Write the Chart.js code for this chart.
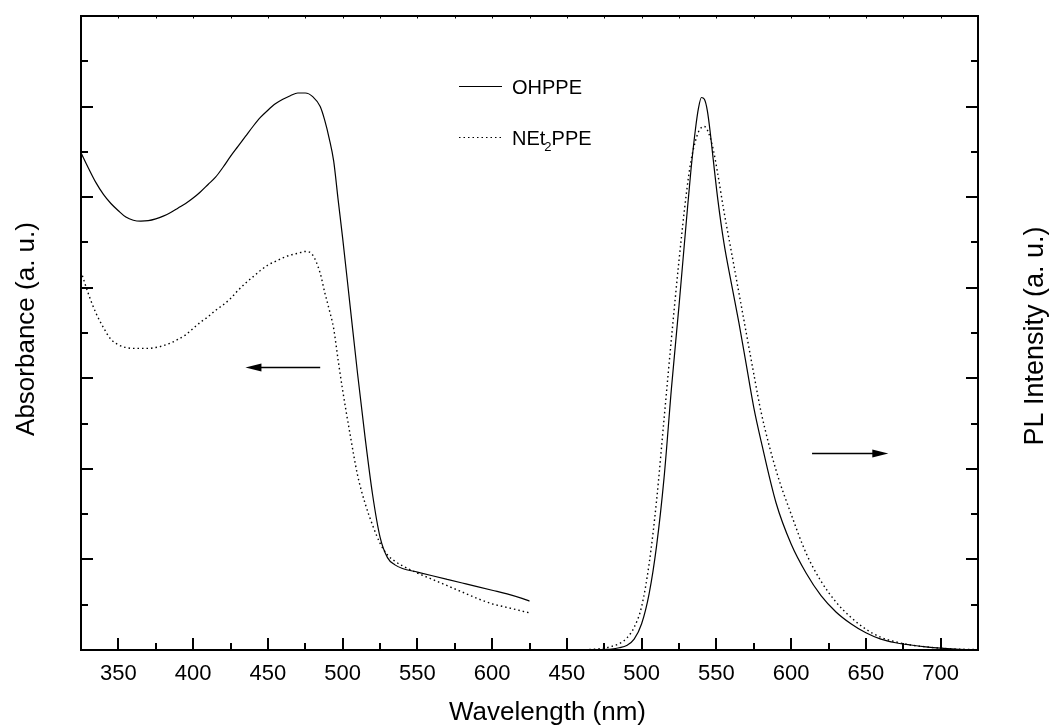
<!DOCTYPE html>
<html><head><meta charset="utf-8">
<script src="https://cdn.jsdelivr.net/npm/chart.js@4"></script>
<style>html,body{margin:0;padding:0;background:#fff}#wrap{width:1054px;height:725px;position:relative}</style>
</head><body><div id="wrap"><canvas id="c"></canvas></div>
<script>
// ---- data (arbitrary units) ----
const absWavelengths = [325,330,335,340,345,350,355,360,365,370,375,380,385,390,395,400,405,410,415,420,425,430,435,440,445,450,455,460,465,470,475,480,485,488,491,494,497,500,505,510,515,520,525,530,535,540,550,560,570,580,590,600,610,620,625];
const ohppeAbs = [5.49,5.32,5.16,5.03,4.93,4.85,4.78,4.745,4.735,4.74,4.76,4.79,4.83,4.88,4.93,4.99,5.06,5.14,5.22,5.33,5.45,5.56,5.67,5.78,5.88,5.96,6.03,6.08,6.12,6.15,6.15,6.11,6.00,5.85,5.65,5.40,4.97,4.55,3.80,3.05,2.35,1.72,1.25,1.02,0.94,0.90,0.86,0.82,0.78,0.74,0.70,0.66,0.62,0.57,0.54];
const net2ppeAbs = [4.18,3.93,3.72,3.56,3.43,3.37,3.34,3.33,3.33,3.33,3.34,3.36,3.39,3.43,3.48,3.55,3.62,3.68,3.75,3.81,3.88,3.97,4.05,4.12,4.19,4.25,4.29,4.33,4.36,4.38,4.40,4.36,4.16,3.95,3.76,3.55,3.20,2.87,2.38,1.93,1.62,1.38,1.18,1.05,0.98,0.93,0.85,0.78,0.71,0.64,0.57,0.51,0.47,0.43,0.41];

const plWavelengths = [465,470,475,480,485,490,495,500,505,510,515,520,525,530,533,536,538,540,542,544,546,548,551,555,560,565,570,575,580,590,600,610,620,630,640,650,660,670,680,690,700,710,725];
const ohppePL = [0,0,0.005,0.01,0.025,0.05,0.12,0.29,0.62,1.15,1.9,2.9,3.8,4.75,5.3,5.75,5.98,6.10,6.08,5.95,5.70,5.40,4.97,4.50,4.05,3.62,3.15,2.68,2.30,1.62,1.17,0.85,0.60,0.42,0.29,0.19,0.12,0.08,0.055,0.035,0.02,0.01,0.0];
const net2ppePL = [0.005,0.01,0.02,0.04,0.07,0.13,0.25,0.48,0.95,1.65,2.55,3.45,4.30,5.05,5.40,5.62,5.72,5.77,5.78,5.74,5.65,5.52,5.25,4.85,4.40,3.95,3.50,3.05,2.62,1.98,1.50,1.07,0.76,0.53,0.36,0.23,0.14,0.09,0.055,0.035,0.02,0.01,0.005];

const absTickLabels = [350,400,450,500,550,600];
const plTickLabels = [450,500,550,600,650,700];
const AXIS_SHIFT = 200; // PL panel drawn after the axis break: shared axis value = wavelength + 200

const FONT = '"Liberation Sans", Arial, Helvetica, sans-serif';
Chart.defaults.font.family = FONT;
Chart.defaults.color = '#000';

function tickLabel(v) {
  if (v <= 625) return absTickLabels.includes(v) ? String(v) : '';
  const w = v - AXIS_SHIFT;
  return plTickLabels.includes(w) ? String(w) : '';
}

const decor = {
  id: 'decor',
  afterDraw(chart) {
    const {ctx, chartArea: a, scales: {x, y, y1}} = chart;
    ctx.save();
    ctx.strokeStyle = '#000';
    ctx.fillStyle = '#000';
    // inward tick marks
    ctx.lineWidth = 2;
    ctx.beginPath();
    for (let u = 350; u < 925; u += 25) {
      const px = Math.round(x.getPixelForValue(u));
      const L = (u % 50 === 0) ? 12 : 7;
      ctx.moveTo(px, a.bottom); ctx.lineTo(px, a.bottom - L);
    }
    for (let v = 0.5; v < 7; v += 0.5) {
      const L = (v % 1 === 0) ? 12 : 7;
      const p0 = Math.round(y.getPixelForValue(v)) ;
      ctx.moveTo(a.left, p0); ctx.lineTo(a.left + L, p0);
      const p1 = Math.round(y1.getPixelForValue(v));
      ctx.moveTo(a.right, p1); ctx.lineTo(a.right - L, p1);
    }
    ctx.stroke();
    ctx.lineWidth = 1;
    ctx.beginPath();
    for (let u = 350; u < 925; u += 25) {
      const px = Math.round(x.getPixelForValue(u)) + 0.5;
      ctx.moveTo(px, a.top); ctx.lineTo(px, a.top + 2.5);
    }
    ctx.stroke();
    // frame
    ctx.lineWidth = 2;
    ctx.strokeRect(a.left, a.top, a.right - a.left, a.bottom - a.top);

    // arrows (positioned in data coordinates)
    function arrow(u0, u1, val, scale) {
      const X0 = x.getPixelForValue(u0), X1 = x.getPixelForValue(u1), Y = Math.round(scale.getPixelForValue(val)) + 0.5;
      const dir = Math.sign(X1 - X0);
      ctx.lineWidth = 1.5;
      ctx.beginPath(); ctx.moveTo(X0, Y); ctx.lineTo(X1 - dir * 10, Y); ctx.stroke();
      ctx.beginPath();
      ctx.moveTo(X1, Y); ctx.lineTo(X1 - dir * 16, Y - 4); ctx.lineTo(X1 - dir * 16, Y + 4); ctx.closePath(); ctx.fill();
    }
    arrow(485, 435, 3.12, y);
    arrow(614 + AXIS_SHIFT, 665 + AXIS_SHIFT, 2.17, y1);

    // legend
    const lx0 = a.left + 378, lx1 = a.left + 421, tx = a.left + 431;
    ctx.lineWidth = 1.2;
    ctx.beginPath(); ctx.moveTo(lx0, a.top + 70.5); ctx.lineTo(lx1, a.top + 70.5); ctx.stroke();
    ctx.setLineDash([1.5, 3]);
    ctx.beginPath(); ctx.moveTo(lx0, a.top + 121.5); ctx.lineTo(lx1, a.top + 121.5); ctx.stroke();
    ctx.setLineDash([]);
    ctx.textAlign = 'left'; ctx.textBaseline = 'alphabetic';
    ctx.font = '20px ' + FONT;
    ctx.fillText('OHPPE', tx, a.top + 78);
    ctx.fillText('NEt', tx, a.top + 129);
    const w1 = ctx.measureText('NEt').width;
    ctx.font = '13px ' + FONT;
    ctx.fillText('2', tx + w1 - 1, a.top + 135);
    const w2 = ctx.measureText('2').width;
    ctx.font = '20px ' + FONT;
    ctx.fillText('PPE', tx + w1 - 1 + w2, a.top + 129);

    // axis titles
    ctx.font = '26px ' + FONT;
    ctx.textAlign = 'center';
    ctx.fillText('Wavelength (nm)', 547.5, 720);
    ctx.save(); ctx.translate(33.5, 329); ctx.rotate(-Math.PI / 2); ctx.fillText('Absorbance (a. u.)', 0, 0); ctx.restore();
    ctx.font = '27px ' + FONT;
    ctx.save(); ctx.translate(1043, 336); ctx.rotate(-Math.PI / 2); ctx.fillText('PL Intensity (a. u.)', 0, 0); ctx.restore();
    ctx.restore();
  }
};

const toXY = (xs, ys, shift) => xs.map((w, i) => ({x: w + shift, y: ys[i]}));
const solid = {borderColor: '#000', borderWidth: 1.2, pointRadius: 0, cubicInterpolationMode: 'monotone', fill: false};
const dotted = {borderColor: '#000', borderWidth: 1.4, borderDash: [1.5, 3], pointRadius: 0, cubicInterpolationMode: 'monotone', fill: false};

new Chart(document.getElementById('c'), {
  type: 'line',
  data: {
    datasets: [
      Object.assign({label: 'OHPPE', data: toXY(absWavelengths, ohppeAbs, 0), yAxisID: 'y'}, solid),
      Object.assign({label: 'NEt2PPE', data: toXY(absWavelengths, net2ppeAbs, 0), yAxisID: 'y'}, dotted),
      Object.assign({label: 'OHPPE PL', data: toXY(plWavelengths, ohppePL, AXIS_SHIFT), yAxisID: 'y1'}, solid),
      Object.assign({label: 'NEt2PPE PL', data: toXY(plWavelengths, net2ppePL, AXIS_SHIFT), yAxisID: 'y1'}, dotted)
    ]
  },
  options: {
    responsive: true,
    maintainAspectRatio: false,
    animation: false,
    layout: {padding: {top: 16, left: 0, right: 0, bottom: 0}},
    plugins: {legend: {display: false}, tooltip: {enabled: false}},
    scales: {
      x: {
        type: 'linear', min: 325, max: 925,
        ticks: {stepSize: 25, autoSkip: false, maxRotation: 0, minRotation: 0, padding: 11, font: {size: 22}, color: '#000', callback: tickLabel},
        grid: {display: false, drawTicks: false},
        border: {display: false},
        afterFit(s) { s.height = 75; }
      },
      y: {
        type: 'linear', position: 'left', min: 0, max: 7,
        ticks: {display: false}, grid: {display: false, drawTicks: false}, border: {display: false},
        afterFit(s) { s.width = 81; }
      },
      y1: {
        type: 'linear', position: 'right', min: 0, max: 7,
        ticks: {display: false}, grid: {display: false, drawTicks: false}, border: {display: false},
        afterFit(s) { s.width = 76; }
      }
    }
  },
  plugins: [decor]
});
</script>
</body></html>
